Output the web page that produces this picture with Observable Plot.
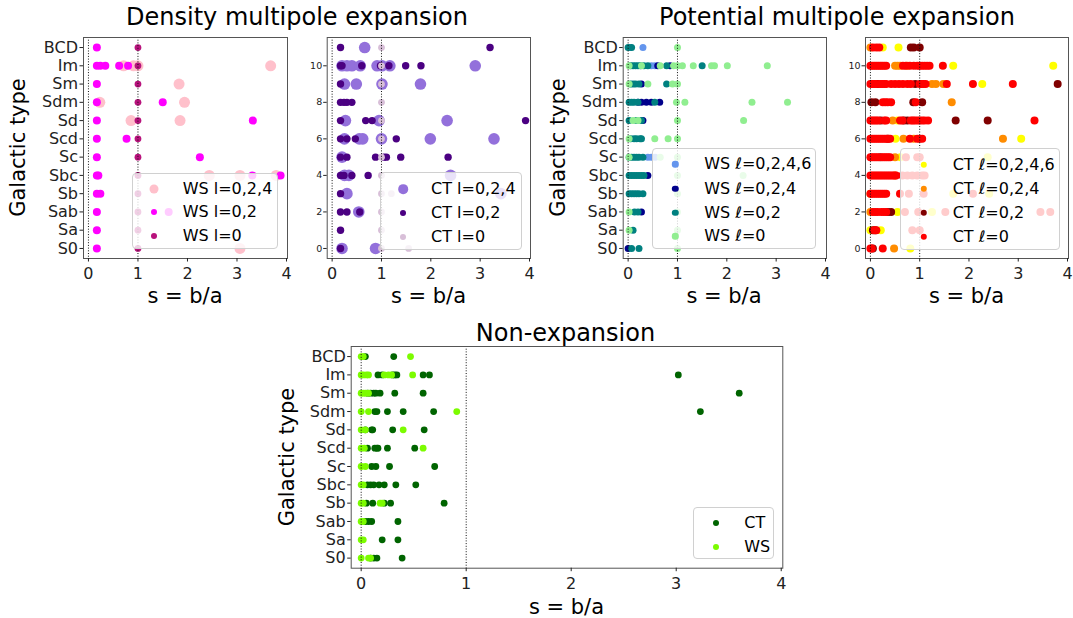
<!DOCTYPE html>
<html>
<head>
<meta charset="utf-8">
<script src="https://cdn.jsdelivr.net/npm/d3@7"></script>
<script src="https://cdn.jsdelivr.net/npm/@observablehq/plot@0.6"></script>
<style>
  html, body { margin: 0; padding: 0; background: #fff; }
  #fig { position: relative; width: 1073px; height: 618px; overflow: hidden; font-family: "DejaVu Sans", sans-serif; background:#fff; }
  .panel { position: absolute; }
  .panel svg { max-width: none !important; overflow: visible; background: transparent; }
  .legend { position: absolute; box-sizing: border-box; background: rgba(255,255,255,0.8); border: 1px solid #d0d0d0; border-radius: 4px; }
  .legend .mk { position: absolute; border-radius: 50%; transform: translate(-50%,-50%); }
  .legend .lb { position: absolute; transform: translateY(-50%); font-size: 16px; line-height: 1; white-space: nowrap; color: #000; }
  #overlay { position: absolute; left: 0; top: 0; pointer-events: none; }
</style>
</head>
<body>
<div id="fig"></div>
<script>
// ---------- categories & ticks ----------
const types = ["S0","Sa","Sab","Sb","Sbc","Sc","Scd","Sd","Sdm","Sm","Im","BCD"];
const typeTicks = [0,1,2,3,4,5,6,7,8,9,10,11];
const numTicks = [0,2,4,6,8,10];
const xTicks = [0,1,2,3,4];
const refLines = [0,1];

// ---------- Density multipole expansion, WS (rows: S0 ... BCD) ----------
const densWS_l024 = [[3.06],[],[],[],[2.44,3.06,3.79],[],[],[0.86,1.85],[0.23,1.94],[1.83],[0.71,0.91,1.0,3.68],[]];
const densWS_l02  = [[0.17],[0.17],[0.17,1.62],[0.17,0.24],[0.17,0.2,3.31,3.88],[0.17,2.25],[0.17,0.77],[0.17,3.32],[0.17,1.5],[0.17],[0.17,0.24,0.34,0.62,0.8],[0.17]];
const densWS_l0   = [[1],[1],[1],[1],[1],[1],[1],[1],[1],[1],[1],[1]];

// ---------- Density multipole expansion, CT ----------
const densCT_l024 = [[0.2,0.88],[],[0.54],[0.3,3.42],[0.25,0.34,2.4],[0.2],[0.25,0.55,0.62,1.0,1.99,3.28],[0.27,0.95,2.33],[],[0.25,0.49,1.01,1.79],[0.2,0.3,0.4,0.57,0.91,1.01,1.17,2.9],[0.66]];
const densCT_l02  = [[0.17],[0.17],[0.17,0.3,0.56],[0.17],[0.17,0.24,0.4,0.73],[0.17,0.3,0.88,1.05,1.1,1.39,2.35],[0.17,0.3,0.47,1.3],[0.17,0.68,0.81,3.92],[0.17,0.24,0.3,0.4],[0.17],[0.17,0.2,0.6,0.98,1.15,1.49,1.8],[0.17,3.2]];
const densCT_l0   = [[1,1.55],[1],[1],[1,1.2],[1],[1],[1],[1],[1],[1],[1],[1]];

// ---------- Potential multipole expansion, WS ----------
const potWS_l0246 = [[],[],[],[],[],[0.4,0.47,0.55],[],[],[],[],[0.47,0.54],[0.04,0.3]];
const potWS_l024  = [[0.0],[],[0.27],[],[0.4],[],[],[0.3],[0.2,0.27,0.37,0.47,0.64],[0.27],[0.6,0.85],[]];
const potWS_l02   = [[0.07,0.22],[0.1],[0.13,0.2],[0.02,0.07,0.12,0.17,0.22,0.3],[0.02,0.07,0.12,0.17,0.22,0.27,0.32],[0.02,0.07,0.12,0.17,0.22,0.3],[0.05,0.12,0.17,0.24,0.27],[0.02,0.17,0.27],[0.02,0.07,0.12,0.2,0.54],[0.05,0.1,0.15,0.22,0.78],[0.05,0.1,0.15,0.2,0.25,0.32,0.4,0.78,1.5],[0.0,0.07]];
const potWS_l0    = [[1.0],[0.02,1.0],[0.02,1.0],[1.0],[1.0,2.33],[0.02,0.65,1.0],[0.02,0.54,0.81,1.0],[0.1,0.2,1.0,2.34],[0.98,1.15,2.51,3.23],[0.02,0.4,0.9,1.0],[0.02,0.27,0.65,0.92,1.0,1.1,1.32,1.69,1.75,2.01,2.82],[1.0]];

// ---------- Potential multipole expansion, CT ----------
const potCT_l0246 = [[0.81],[0.0,0.21],[0.55,1.25],[1.68,2.41],[],[0.61,2.38],[0.51,3.06],[0.55],[],[2.27],[1.68,3.71],[0.25,0.57]];
const potCT_l024  = [[0.48],[],[0.0],[0.0],[0.5],[0.5],[0.67,0.88,2.69],[0.45],[1.65],[1.25,1.33,1.48],[0.5,0.55,0.6,0.75],[0.0]];
const potCT_l02   = [[0.05],[0.05,0.1],[0.35,0.42],[],[],[0.2],[0.35],[0.21,0.68,0.75,1.73,2.38],[0.02,0.1,0.87,1.05],[0.15,0.91,3.8],[],[0.82,0.88,1.0]];
const potCT_l0    = [
  [0.0,0.03,0.25],
  [0.08,0.12,0.85,1.0],
  [0.05,0.1,0.15,0.22,0.27,0.32,0.7,0.97,1.52,3.45,3.65],
  [0.0,0.04,0.08,0.12,0.16,0.2,0.24,0.28,0.32,0.6,0.78,1.08,2.08],
  [0.0,0.04,0.08,0.12,0.16,0.2,0.24,0.28,0.32,0.36,0.4,0.44,0.48,0.52,0.65,0.75,0.85,0.95,1.05,1.1],
  [0.0,0.04,0.08,0.12,0.16,0.24,0.28,0.32,0.36,0.4,0.72,0.95,1.0],
  [0.0,0.04,0.08,0.12,0.16,0.2,0.24,0.28,0.32,0.36,0.4,0.8,0.95,1.0,1.05],
  [0.0,0.04,0.08,0.12,0.16,0.28,0.32,0.6,0.65,0.82,0.86,0.9,0.95,1.0,1.05,1.1,1.17,3.33],
  [0.25,0.3,0.35,0.42,0.92],
  [0.0,0.04,0.08,0.12,0.2,0.24,0.28,0.32,0.42,0.5,0.58,0.66,0.75,0.82,1.0,1.04,1.08,1.12,1.55,2.08,2.89],
  [0.0,0.04,0.08,0.12,0.16,0.2,0.24,0.28,0.32,0.66,0.72,0.8,0.88,0.95,1.0,1.05,1.1,1.15,1.2,1.47],
  [0.05,0.12,0.18]
];

// ---------- Non-expansion ----------
const nonCT = [[0.09,0.12,0.15,0.39],[0.2,0.35],[0.04,0.07,0.1,0.35],[0.05,0.11,0.22,0.28,0.79],[0.06,0.09,0.12,0.17,0.22,0.33,0.52],[0.1,0.14,0.27,0.7],[0.06,0.13,0.15,0.16,0.25,0.51],[0.04,0.1,0.11,0.3,0.6],[0.13,0.15,0.25,0.4,0.69,3.23],[0.06,0.09,0.12,0.14,0.18,0.32,0.59,3.6],[0.16,0.2,0.3,0.32,0.34,0.59,0.65,3.02],[0.04,0.31]];
const nonWS = [[0.0,0.07,0.09],[0.0,0.02],[0.0,0.02],[0.0,0.02,0.18,0.2],[0.0,0.02],[0.0,0.04],[0.0,0.03,0.59],[0.0,0.04,0.4],[0.0,0.07,0.91],[0.0,0.02,0.04,0.07],[0.0,0.02,0.05,0.07,0.22,0.26,0.29,0.49],[0.0,0.02,0.47]];

// ---------- text ----------
const titles = ["Density multipole expansion", "Potential multipole expansion", "Non-expansion"];
const xLabel = "s = b/a";
const yLabel = "Galactic type";

// ---------- helpers ----------
const fig = document.getElementById("fig");
function rows(series) { return series.flatMap((vals, t) => vals.map(s => ({t, s}))); }

function panel(cfg) {
  const wrap = document.createElement("div");
  wrap.className = "panel";
  wrap.style.left = cfg.left + "px";
  wrap.style.top = cfg.top + "px";
  wrap.style.width = cfg.width + "px";
  wrap.style.height = cfg.height + "px";
  const yAxis = cfg.numericY
    ? Plot.axisY({ticks: numTicks, tickSize: 3.5, tickPadding: 1.5, fontSize: 9.5, label: null})
    : Plot.axisY({ticks: typeTicks, tickFormat: i => types[i], tickSize: 3.5, tickPadding: 2, fontSize: 16, label: null});
  const svg = Plot.plot({
    width: cfg.width, height: cfg.height,
    marginLeft: cfg.ml, marginRight: cfg.mr, marginTop: cfg.mt, marginBottom: cfg.mb,
    x: {domain: cfg.xd || [-0.1, 4.02]},
    y: {domain: [-0.55, 11.55]},
    style: {fontFamily: "DejaVu Sans", fontSize: "16px", color: "#222", background: "transparent", overflow: "visible"},
    marks: [
      ...cfg.series.map(se => Plot.dot(rows(se.data), {x: "s", y: "t", r: se.r, fill: se.color})),
      Plot.ruleX(refLines, {stroke: "#111", strokeWidth: 1, strokeDasharray: "1,1.7"}),
      Plot.frame({stroke: "#555", strokeWidth: 1}),
      Plot.axisX({ticks: xTicks, tickFormat: d => String(d), tickSize: 3.5, tickPadding: 6, fontSize: 16, label: null}),
      yAxis
    ]
  });
  wrap.appendChild(svg);
  fig.appendChild(wrap);
}

function legend(cfg) {
  const box = document.createElement("div");
  box.className = "legend";
  box.style.left = cfg.left + "px";
  box.style.top = cfg.top + "px";
  box.style.width = cfg.width + "px";
  box.style.height = cfg.height + "px";
  cfg.items.forEach((it, i) => {
    const y = cfg.rows[i];
    const mk = document.createElement("span");
    mk.className = "mk";
    mk.style.left = cfg.mx + "px";
    mk.style.top = y + "px";
    mk.style.width = (2 * it.r) + "px";
    mk.style.height = (2 * it.r) + "px";
    mk.style.background = it.color;
    box.appendChild(mk);
    const lb = document.createElement("span");
    lb.className = "lb";
    lb.style.left = cfg.tx + "px";
    lb.style.top = y + "px";
    lb.textContent = it.label;
    box.appendChild(lb);
  });
  fig.appendChild(box);
}

// ---------- panels ----------
const cDens = {l024: "#ffc0cb", l02: "#ff00ff", l0: "#b8127c"};
const cDensCT = {l024: "#9370db", l02: "#4b0082", l0: "#d8bfd8"};
const cPotWS = {l0246: "#6495ed", l024: "#00008b", l02: "#008080", l0: "#90ee90"};
const cPotCT = {l0246: "#ffff00", l024: "#ff8c00", l02: "#800000", l0: "#ff0000"};
const cNon = {CT: "#006400", WS: "#7cfc00"};

panel({left: 0, top: 0, width: 300, height: 310, ml: 83, mr: 13, mt: 37, mb: 52, series: [
  {data: densWS_l024, color: cDens.l024, r: 5.5},
  {data: densWS_l02, color: cDens.l02, r: 4},
  {data: densWS_l0, color: cDens.l0, r: 3.4}
]});
panel({left: 300, top: 0, width: 240, height: 310, ml: 26.7, mr: 10, mt: 37, mb: 52, numericY: true, series: [
  {data: densCT_l024, color: cDensCT.l024, r: 5.8},
  {data: densCT_l02, color: cDensCT.l02, r: 3.7},
  {data: densCT_l0, color: cDensCT.l0, r: 3.4}
]});
panel({left: 540, top: 0, width: 292, height: 310, ml: 82.7, mr: 6, mt: 37, mb: 52, series: [
  {data: potWS_l0246, color: cPotWS.l0246, r: 3.5},
  {data: potWS_l024, color: cPotWS.l024, r: 3.5},
  {data: potWS_l02, color: cPotWS.l02, r: 3.5},
  {data: potWS_l0, color: cPotWS.l0, r: 3.5}
]});
panel({left: 832, top: 0, width: 241, height: 310, ml: 33, mr: 5, mt: 37, mb: 52, numericY: true, series: [
  {data: potCT_l0246, color: cPotCT.l0246, r: 4},
  {data: potCT_l024, color: cPotCT.l024, r: 4},
  {data: potCT_l02, color: cPotCT.l02, r: 4},
  {data: potCT_l0, color: cPotCT.l0, r: 4}
]});
panel({left: 280, top: 310, width: 520, height: 308, ml: 70.7, mr: 17.7, mt: 36, mb: 50.3, xd: [-0.095, 4.015], series: [
  {data: nonCT, color: cNon.CT, r: 3.4},
  {data: nonWS, color: cNon.WS, r: 3.4}
]});

// ---------- legends ----------
legend({left: 131.7, top: 172.7, width: 146.6, height: 76.6, mx: 21.6, tx: 50, rows: [15.6, 38.3, 62.6], items: [
  {label: "WS l=0,2,4", color: cDens.l024, r: 4.5},
  {label: "WS l=0,2", color: cDens.l02, r: 3},
  {label: "WS l=0", color: cDens.l0, r: 3}
]});
legend({left: 380, top: 171.7, width: 141.7, height: 78.3, mx: 22.3, tx: 50, rows: [16.3, 40.3, 64.3], items: [
  {label: "CT l=0,2,4", color: cDensCT.l024, r: 4.8},
  {label: "CT l=0,2", color: cDensCT.l02, r: 3},
  {label: "CT l=0", color: cDensCT.l0, r: 3}
]});
legend({left: 651.7, top: 148, width: 164.3, height: 101.3, mx: 22.6, tx: 51.6, rows: [15.3, 39.7, 64, 87.3], items: [
  {label: "WS \u2113=0,2,4,6", color: cPotWS.l0246, r: 3.2},
  {label: "WS \u2113=0,2,4", color: cPotWS.l024, r: 3.2},
  {label: "WS \u2113=0,2", color: cPotWS.l02, r: 3.2},
  {label: "WS \u2113=0", color: cPotWS.l0, r: 3.2}
]});
legend({left: 900, top: 148.3, width: 160, height: 101.7, mx: 22.7, tx: 51.7, rows: [15.5, 39.3, 63.5, 87.6], items: [
  {label: "CT \u2113=0,2,4,6", color: cPotCT.l0246, r: 3.2},
  {label: "CT \u2113=0,2,4", color: cPotCT.l024, r: 3.2},
  {label: "CT \u2113=0,2", color: cPotCT.l02, r: 3.2},
  {label: "CT \u2113=0", color: cPotCT.l0, r: 3.2}
]});
legend({left: 693.3, top: 507.3, width: 80.7, height: 52, mx: 21.7, tx: 50, rows: [14.7, 38.4], items: [
  {label: "CT", color: cNon.CT, r: 3},
  {label: "WS", color: cNon.WS, r: 3}
]});

// ---------- titles & axis labels ----------
const ov = d3.select(fig).append("svg").attr("id", "overlay").attr("width", 1073).attr("height", 618)
  .style("font-family", "DejaVu Sans").style("fill", "#000");
const titlePos = [[297, 25], [837, 25], [565.5, 340.7]];
titles.forEach((t, i) => ov.append("text").attr("x", titlePos[i][0]).attr("y", titlePos[i][1])
  .attr("text-anchor", "middle").attr("font-size", 24).text(t));
const xlPos = [[185, 303], [428.5, 303], [724, 303], [966.5, 303], [566.5, 614]];
xlPos.forEach(p => ov.append("text").attr("x", p[0]).attr("y", p[1]).attr("text-anchor", "middle").attr("font-size", 21).text(xLabel));
const ylPos = [[25, 147.5], [565, 147.5], [294, 457]];
ylPos.forEach(p => ov.append("text").attr("transform", `translate(${p[0]},${p[1]}) rotate(-90)`)
  .attr("text-anchor", "middle").attr("font-size", 21).text(yLabel));
</script>
</body>
</html>
